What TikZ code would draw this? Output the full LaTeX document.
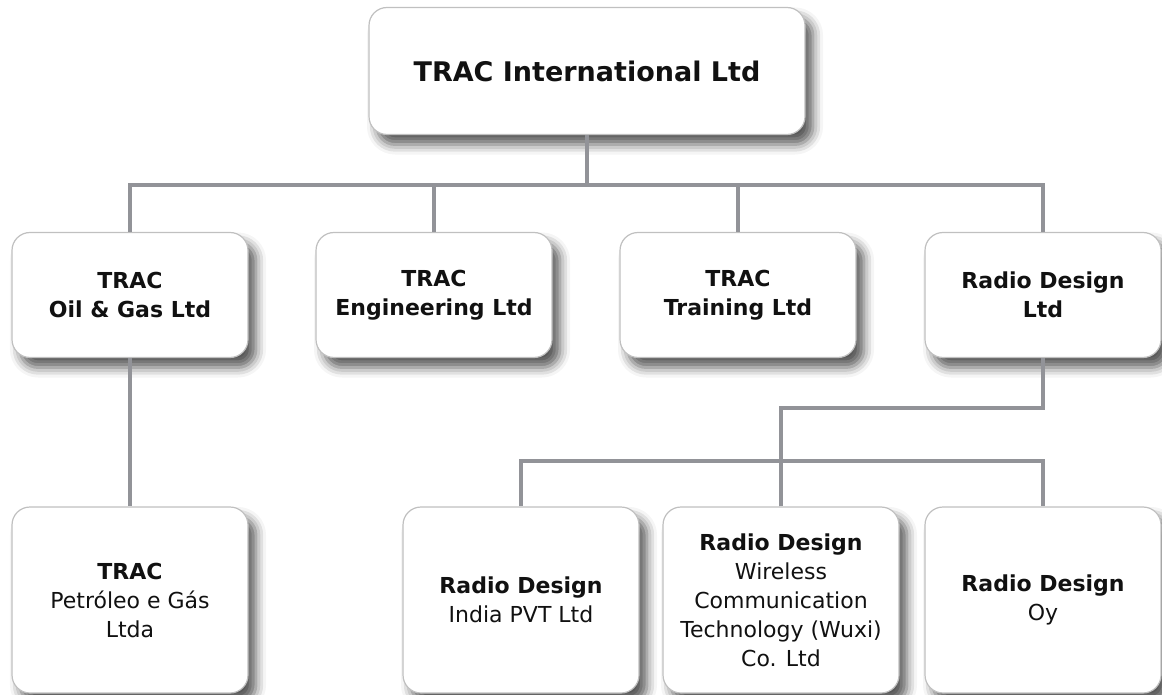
\documentclass[tikz,border=0pt]{standalone}
\usepackage{fontspec}
\setmainfont{DejaVu Sans}
\usetikzlibrary{shadows.blur}
\definecolor{linkgray}{RGB}{146,147,152}
\definecolor{boxline}{RGB}{192,192,192}
\definecolor{textblack}{RGB}{17,17,17}

\begin{document}
\begin{tikzpicture}[x=1pt, y=-1pt,
    box/.style={draw=boxline, line width=1.2pt, fill=white, rounded corners=18pt,
      align=center, inner sep=0pt, text=textblack,
      font=\fontsize{22}{29}\selectfont,
      minimum width=236pt, minimum height=125pt,
      blur shadow={shadow xshift=8pt, shadow yshift=-10pt,
        shadow blur radius=10pt, shadow opacity=65}},
    tallbox/.style={box, minimum height=186pt},
    link/.style={linkgray, line width=4pt}]
    \useasboundingbox (0,0) rectangle (1162,695);

    % Parent company
    \node[box, minimum width=436pt, minimum height=127pt,
      font=\fontsize{27}{32}\selectfont\bfseries] (intl) at (587,71) {TRAC International Ltd};

    % Subsidiaries
    \node[box, font=\fontsize{22}{29}\selectfont\bfseries] (oilgas) at (130,295) {TRAC\\Oil \& Gas Ltd};
    \node[box, font=\fontsize{22}{29}\selectfont\bfseries] (eng) at (434,295) {TRAC\\Engineering Ltd};
    \node[box, font=\fontsize{22}{29}\selectfont\bfseries] (training) at (738,295) {TRAC\\Training Ltd};
    \node[box, font=\fontsize{22}{29}\selectfont\bfseries] (radio) at (1043,295) {Radio Design\\Ltd};

    % Second level
    \node[tallbox] (petroleo) at (130,600) {\textbf{TRAC}\\Petróleo e Gás\\Ltda};
    \node[tallbox] (india) at (521,600) {\textbf{Radio Design}\\India PVT Ltd};
    \node[tallbox] (wuxi) at (781,600) {\textbf{Radio Design}\\Wireless\\Communication\\Technology (Wuxi)\\Co. Ltd};
    \node[tallbox] (oy) at (1043,600) {\textbf{Radio Design}\\Oy};

    % Connectors
    \foreach \child in {oilgas,eng,training,radio}
        \draw[link] (intl.south) -- ++(0,50) -| (\child.north);
    \draw[link] (oilgas.south) -- (petroleo.north);
    \draw[link] (radio.south) -- ++(0,50) -| (wuxi.north);
    \foreach \child in {india,oy}
        \draw[link] (wuxi.north) -- ++(0,-45) -| (\child.north);
\end{tikzpicture}
\end{document}
